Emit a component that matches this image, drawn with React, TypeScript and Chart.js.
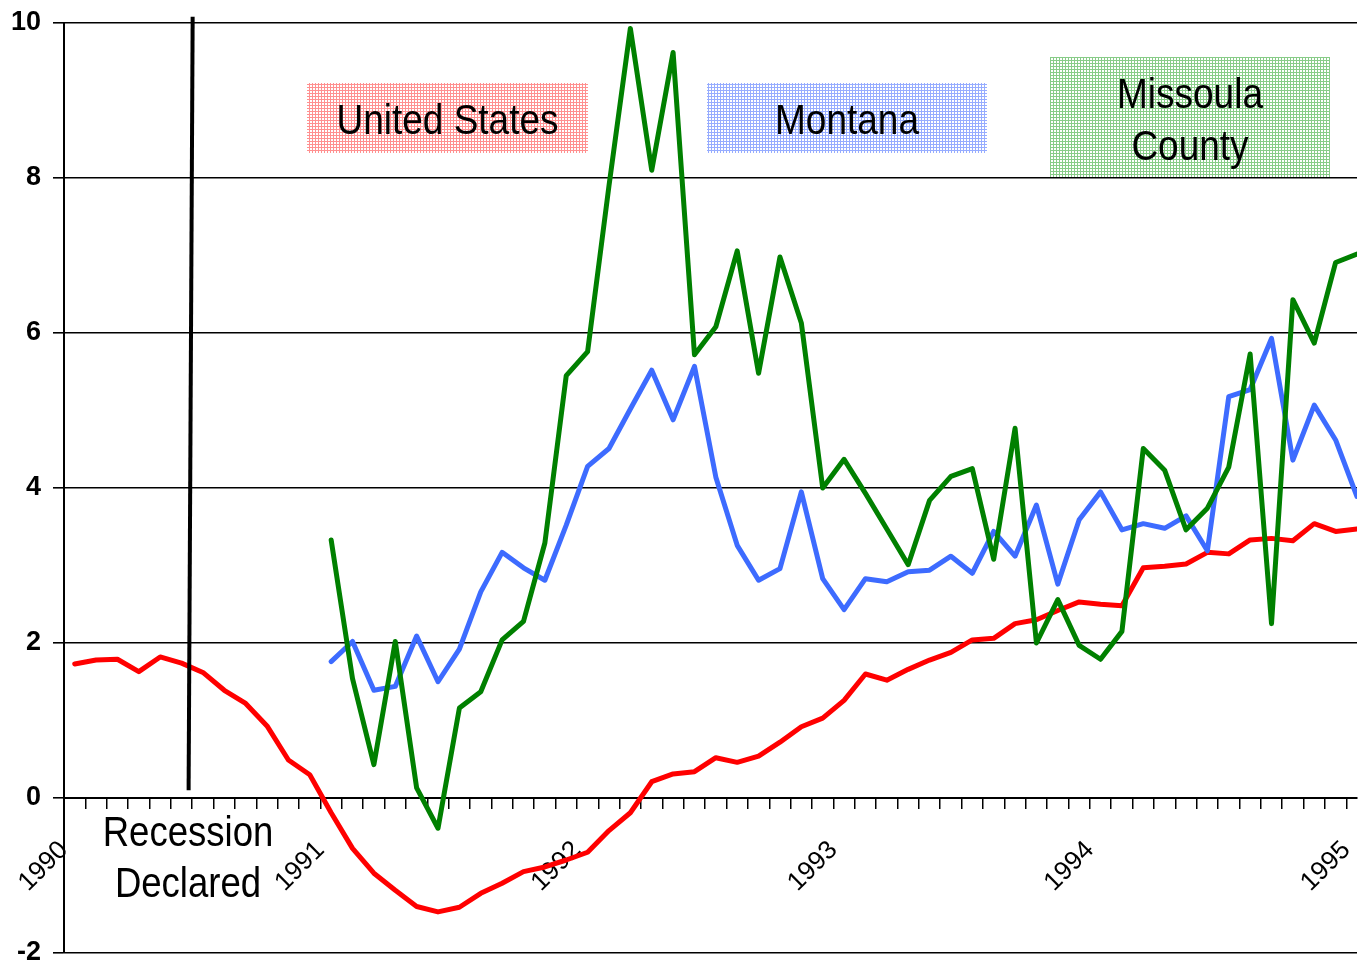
import React, { useEffect, useRef } from 'react';
import { Chart, registerables } from 'chart.js';

Chart.register(...registerables);

// ---- data ----
const yearLabels = ['1990', '1991', '1992', '1993', '1994', '1995'];
const monthsShown = 61; // Jan 1990 .. Jan 1995 (monthly)

// United States, monthly from Jan 1990
const usValues = [
  1.73, 1.78, 1.79, 1.63, 1.82, 1.74, 1.62, 1.39, 1.22, 0.93, 0.49, 0.30,
  -0.19, -0.65, -0.97, -1.19, -1.40, -1.47, -1.41, -1.23, -1.10, -0.95, -0.89, -0.80,
  -0.70, -0.42, -0.19, 0.21, 0.31, 0.34, 0.52, 0.46, 0.54, 0.72, 0.92, 1.03,
  1.26, 1.60, 1.52, 1.66, 1.78, 1.88, 2.04, 2.06, 2.25, 2.30, 2.42, 2.53,
  2.50, 2.48, 2.97, 2.99, 3.02, 3.17, 3.15, 3.33, 3.35, 3.32, 3.54, 3.44,
  3.47,
];

// Montana and Missoula County, monthly from Jan 1991
const regionalStart = 12;
const montanaValues = [
  1.76, 2.02, 1.39, 1.44, 2.09, 1.50, 1.92, 2.66, 3.17, 2.97, 2.81, 3.52,
  4.28, 4.51, 5.02, 5.52, 4.88, 5.57, 4.14, 3.26, 2.81, 2.96, 3.95, 2.83,
  2.43, 2.83, 2.79, 2.92, 2.94, 3.12, 2.90, 3.44, 3.12, 3.78, 2.76, 3.59,
  3.95, 3.46, 3.54, 3.48, 3.64, 3.19, 5.18, 5.27, 5.93, 4.36, 5.07, 4.62,
  3.89,
];
const missoulaValues = [
  3.33, 1.54, 0.43, 2.02, 0.13, -0.39, 1.16, 1.37, 2.04, 2.28, 3.29, 5.45,
  5.76, 7.90, 9.93, 8.10, 9.62, 5.72, 6.08, 7.06, 5.48, 6.98, 6.13, 4.00,
  4.37, 3.93, 3.47, 3.01, 3.84, 4.15, 4.25, 3.08, 4.77, 2.00, 2.56, 1.97,
  1.79, 2.15, 4.51, 4.23, 3.46, 3.74, 4.27, 5.73, 2.25, 6.43, 5.87, 6.91,
  7.02,
];

const seriesNames = ['United States', 'Montana', 'Missoula County'];
const seriesColors = ['#ff0000', '#3d6bff', '#008000'];
const yTicks = [-2, 0, 2, 4, 6, 8, 10];

// recession marker (x in months from Jan 1990, y in %)
const recessionX = [6.02, 5.83];
const recessionY = [10.08, 0.1];
const recessionText = ['Recession', 'Declared'];

const FONT = '"Liberation Sans", Arial, sans-serif';

function toPoints(values: number[], start: number) {
  return values.map((v, i) => ({ x: start + i + 0.5, y: v }));
}

function makePattern(ctx: CanvasRenderingContext2D, color: string) {
  const c = document.createElement('canvas');
  c.width = 3;
  c.height = 3;
  const p = c.getContext('2d')!;
  p.fillStyle = '#ffffff';
  p.fillRect(0, 0, 3, 3);
  p.fillStyle = color;
  p.fillRect(0, 0, 3, 1);
  p.fillRect(0, 0, 1, 3);
  return ctx.createPattern(c, 'repeat');
}

function narrowText(
  ctx: CanvasRenderingContext2D,
  text: string,
  cx: number,
  baseline: number,
  size: number,
  squeeze: number
) {
  ctx.save();
  ctx.font = `${size}px ${FONT}`;
  ctx.textAlign = 'center';
  ctx.textBaseline = 'alphabetic';
  ctx.fillStyle = '#000';
  ctx.translate(cx, baseline);
  ctx.scale(squeeze, 1);
  ctx.fillText(text, 0, 0);
  ctx.restore();
}

const labelBoxes = [
  { lines: ['United States'], x: 307, y: 83, w: 281, h: 70, color: '#ff9090', baselines: [134] },
  { lines: ['Montana'], x: 707, y: 83, w: 280, h: 70, color: '#96acff', baselines: [134] },
  { lines: ['Missoula', 'County'], x: 1050, y: 57, w: 280, h: 120, color: '#88cc88', baselines: [108, 160] },
];

const annotationPlugin = {
  id: 'annotations',
  beforeDatasetsDraw(chart: any) {
    const ctx: CanvasRenderingContext2D = chart.ctx;
    labelBoxes.forEach((b) => {
      ctx.save();
      const pat = makePattern(ctx, b.color);
      if (pat) ctx.fillStyle = pat;
      ctx.fillRect(b.x, b.y, b.w, b.h);
      ctx.restore();
    });
  },
  afterDatasetsDraw(chart: any) {
    const ctx: CanvasRenderingContext2D = chart.ctx;
    const xs = chart.scales.x;
    const ys = chart.scales.y;
    ctx.save();
    ctx.strokeStyle = '#000';
    ctx.lineWidth = 4;
    ctx.beginPath();
    ctx.moveTo(xs.getPixelForValue(recessionX[0]), ys.getPixelForValue(recessionY[0]));
    ctx.lineTo(xs.getPixelForValue(recessionX[1]), ys.getPixelForValue(recessionY[1]));
    ctx.stroke();
    ctx.restore();

    labelBoxes.forEach((b) => {
      b.lines.forEach((t, i) => narrowText(ctx, t, b.x + b.w / 2, b.baselines[i], 43, 0.86));
    });
    narrowText(ctx, recessionText[0], 188, 846, 42, 0.87);
    narrowText(ctx, recessionText[1], 188, 897, 42, 0.87);
  },
};

export default function App() {
  const ref = useRef<HTMLCanvasElement | null>(null);

  useEffect(() => {
    if (!ref.current) return;
    const chart = new Chart(ref.current, {
      type: 'line',
      data: {
        datasets: [
          {
            label: seriesNames[0],
            data: toPoints(usValues, 0),
            borderColor: seriesColors[0],
            order: 2,
          },
          {
            label: seriesNames[1],
            data: toPoints(montanaValues, regionalStart),
            borderColor: seriesColors[1],
            order: 1,
          },
          {
            label: seriesNames[2],
            data: toPoints(missoulaValues, regionalStart),
            borderColor: seriesColors[2],
            order: 0,
          },
        ],
      },
      options: {
        responsive: false,
        devicePixelRatio: 1,
        animation: false,
        parsing: false as any,
        layout: { padding: { top: 23, right: 1, bottom: 14, left: 0 } },
        elements: {
          point: { radius: 0, hoverRadius: 0 },
          line: { borderWidth: 5, tension: 0, borderJoinStyle: 'round', borderCapStyle: 'round' },
        },
        plugins: { legend: { display: false }, tooltip: { enabled: false } },
        scales: {
          x: {
            type: 'linear',
            min: 0,
            max: monthsShown - 0.5,
            position: { y: 0 } as any,
            afterBuildTicks: (s: any) => {
              s.ticks = Array.from({ length: monthsShown }, (_, i) => ({ value: i }));
            },
            afterFit: (s: any) => {
              s.paddingLeft = 0;
              s.paddingRight = 0;
            },
            ticks: {
              autoSkip: false,
              minRotation: 45,
              maxRotation: 45,
              padding: 27,
              color: '#000',
              font: { family: FONT, size: 26 },
              callback: (v: any) => (v % 12 === 0 ? yearLabels[v / 12] : ''),
            },
            grid: { drawOnChartArea: false, drawTicks: true, tickLength: 10, color: '#000', lineWidth: 1.5 },
            border: { display: true, color: '#000', width: 2 },
          },
          y: {
            type: 'linear',
            min: yTicks[0],
            max: yTicks[yTicks.length - 1],
            afterFit: (s: any) => {
              s.width = 64;
              s.paddingTop = 0;
              s.paddingBottom = 0;
            },
            ticks: {
              stepSize: 2,
              padding: 12,
              color: '#000',
              font: { family: FONT, size: 27, weight: 'bold' },
            },
            grid: { color: '#000', lineWidth: 1.6, tickLength: 11, drawTicks: true },
            border: { display: true, color: '#000', width: 2 },
          },
        },
      },
      plugins: [annotationPlugin],
    });
    return () => chart.destroy();
  }, []);

  return (
    <div style={{ position: 'absolute', left: 0, top: 0, width: 1358, height: 967, background: '#fff' }}>
      <canvas ref={ref} width={1358} height={967} style={{ display: 'block' }} />
    </div>
  );
}
